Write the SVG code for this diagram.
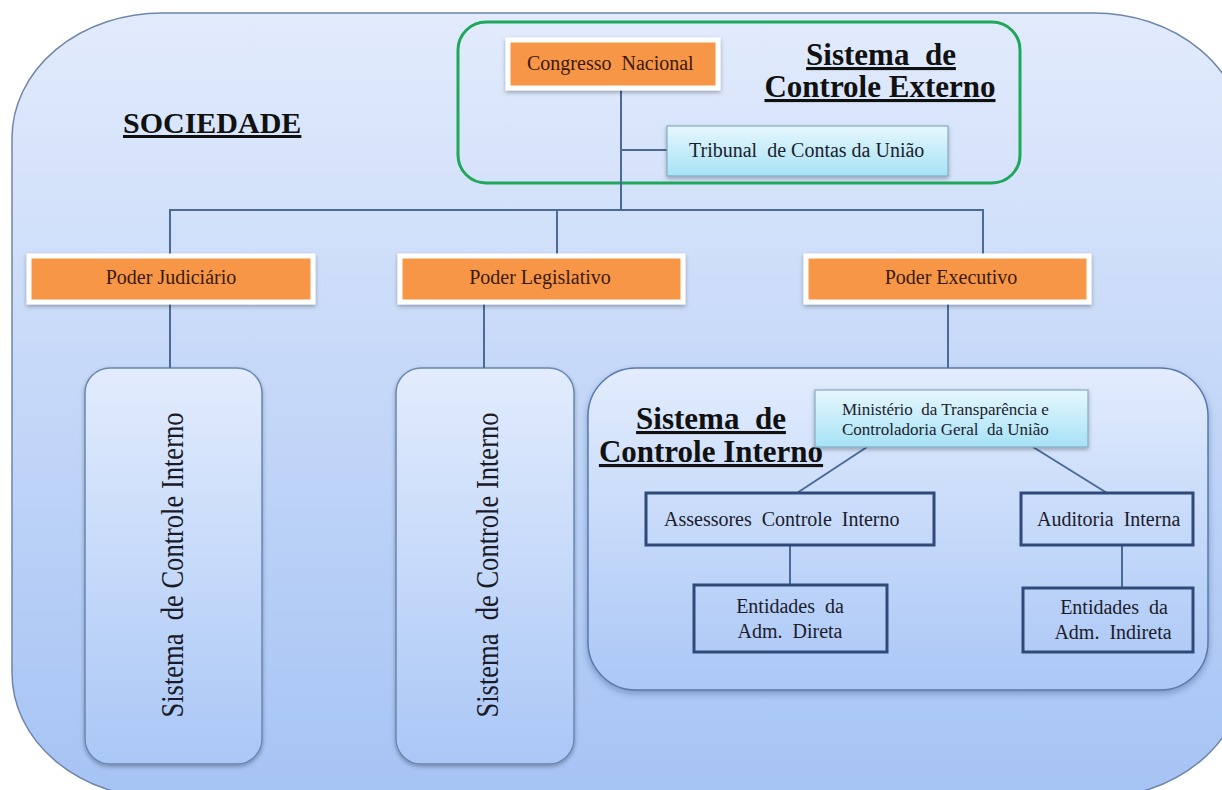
<svg xmlns="http://www.w3.org/2000/svg" width="1222" height="790" viewBox="0 0 1222 790">
<defs>
<linearGradient id="bg" x1="0" y1="0" x2="0" y2="1">
<stop offset="0" stop-color="#e2ebfc"/>
<stop offset="1" stop-color="#a5c3f4"/>
</linearGradient>
<linearGradient id="sub" x1="0" y1="0" x2="0" y2="1">
<stop offset="0" stop-color="#e2ecfd"/>
<stop offset="1" stop-color="#aac7f6"/>
</linearGradient>
<linearGradient id="cyan" x1="0" y1="0" x2="0" y2="1">
<stop offset="0" stop-color="#e6f7fd"/>
<stop offset="1" stop-color="#a6e2f6"/>
</linearGradient>
<filter id="sh" x="-10%" y="-20%" width="120%" height="150%">
<feDropShadow dx="0" dy="2" stdDeviation="2" flood-color="#000" flood-opacity="0.3"/>
</filter>
<filter id="sh2" x="-10%" y="-10%" width="120%" height="120%">
<feDropShadow dx="0" dy="3" stdDeviation="3" flood-color="#1b3566" flood-opacity="0.35"/>
</filter>
</defs>
<style>
text{white-space:pre}
.lbl{font-family:"Liberation Serif","Times New Roman",serif;font-size:20px;fill:#1c1c2c}
.olbl{font-family:"Liberation Serif","Times New Roman",serif;font-size:20px;fill:#3a1a0c}
.head{font-family:"Liberation Serif","Times New Roman",serif;font-size:31px;font-weight:bold;fill:#111;text-decoration:underline}
.orange{fill:#f79646;stroke:#ffffff;stroke-width:5}
.cyanbox{fill:url(#cyan);stroke:#86aac0;stroke-width:1.2}
.dbox{fill:none;stroke:#2f4a78;stroke-width:3}
.vbox{fill:url(#sub);stroke:#6a86b2;stroke-width:1.5}
.vtxt{font-family:"Liberation Serif","Times New Roman",serif;font-size:31px;fill:#1a1a28}
.conn{stroke:#4a6b98;stroke-width:2;fill:none}
</style>

<g id="sociedade">
<rect x="12" y="13" width="1232" height="785" rx="150" ry="125" fill="url(#bg)" stroke="#6f86a8" stroke-width="1.5"/>
<text class="head" x="123" y="133" style="font-size:30px">SOCIEDADE</text>
</g>

<g id="controle-externo">
<rect x="458" y="22" width="562" height="161" rx="28" fill="none" stroke="#1fa85c" stroke-width="3"/>
<text class="head" x="881" y="65" text-anchor="middle">Sistema  de</text>
<text class="head" x="880" y="97" text-anchor="middle">Controle Externo</text>
</g>

<g id="sci-judiciario">
<rect class="vbox" x="85" y="368" width="177" height="396" rx="25" filter="url(#sh)"/>
<text class="vtxt" transform="translate(183,565) rotate(-90)" text-anchor="middle" textLength="305" lengthAdjust="spacingAndGlyphs">Sistema  de Controle Interno</text>
</g>

<g id="sci-legislativo">
<rect class="vbox" x="396" y="368" width="178" height="396" rx="25" filter="url(#sh)"/>
<text class="vtxt" transform="translate(498,565) rotate(-90)" text-anchor="middle" textLength="305" lengthAdjust="spacingAndGlyphs">Sistema  de Controle Interno</text>
</g>

<g id="sci-executivo">
<rect x="588" y="368" width="620" height="322" rx="48" fill="url(#sub)" stroke="#5a79aa" stroke-width="1.5" filter="url(#sh2)"/>
<text class="head" x="711" y="429" text-anchor="middle">Sistema  de</text>
<text class="head" x="711" y="462" text-anchor="middle">Controle Interno</text>
</g>

<g id="connectors">
<line class="conn" x1="621" y1="88" x2="621" y2="210"/>
<line class="conn" x1="621" y1="150" x2="667" y2="150"/>
<polyline class="conn" points="170,255 170,210 983,210 983,255"/>
<line class="conn" x1="557" y1="210" x2="557" y2="255"/>
<line class="conn" x1="170" y1="302" x2="170" y2="368"/>
<line class="conn" x1="484" y1="302" x2="484" y2="368"/>
<line class="conn" x1="948" y1="302" x2="948" y2="368"/>
<line class="conn" x1="867" y1="447" x2="797" y2="493"/>
<line class="conn" x1="1033" y1="447" x2="1107" y2="493"/>
<line class="conn" x1="790" y1="545" x2="790" y2="585"/>
<line class="conn" x1="1122" y1="545" x2="1122" y2="588"/>
</g>

<g id="congresso">
<rect class="orange" x="508" y="40" width="210" height="48" filter="url(#sh)"/>
<text class="olbl" x="527" y="70">Congresso  Nacional</text>
</g>

<g id="tcu">
<rect class="cyanbox" x="667" y="126" width="281" height="50" filter="url(#sh)"/>
<text class="lbl" x="689" y="157">Tribunal  de Contas da União</text>
</g>

<g id="judiciario">
<rect class="orange" x="29" y="256" width="284" height="46" filter="url(#sh)"/>
<text class="olbl" x="171" y="284" text-anchor="middle">Poder Judiciário</text>
</g>

<g id="legislativo">
<rect class="orange" x="400" y="256" width="283" height="46" filter="url(#sh)"/>
<text class="olbl" x="540" y="284" text-anchor="middle">Poder Legislativo</text>
</g>

<g id="executivo">
<rect class="orange" x="806" y="256" width="283" height="46" filter="url(#sh)"/>
<text class="olbl" x="951" y="284" text-anchor="middle">Poder Executivo</text>
</g>

<g id="ministerio">
<rect class="cyanbox" x="815" y="390" width="273" height="57" filter="url(#sh)"/>
<text class="lbl" x="842" y="415" style="font-size:17px">Ministério  da Transparência e</text>
<text class="lbl" x="842" y="435" style="font-size:17px">Controladoria Geral  da União</text>
</g>

<g id="assessores">
<rect class="dbox" x="646" y="493" width="288" height="52"/>
<text class="lbl" x="664" y="526">Assessores  Controle  Interno</text>
</g>

<g id="auditoria">
<rect class="dbox" x="1021" y="493" width="172" height="52"/>
<text class="lbl" x="1037" y="526">Auditoria  Interna</text>
</g>

<g id="adm-direta">
<rect class="dbox" x="694" y="585" width="193" height="67"/>
<text class="lbl" x="790" y="613" text-anchor="middle">Entidades  da</text>
<text class="lbl" x="790" y="638" text-anchor="middle">Adm.  Direta</text>
</g>

<g id="adm-indireta">
<rect class="dbox" x="1023" y="588" width="170" height="64"/>
<text class="lbl" x="1114" y="614" text-anchor="middle">Entidades  da</text>
<text class="lbl" x="1113" y="639" text-anchor="middle">Adm.  Indireta</text>
</g>
</svg>
